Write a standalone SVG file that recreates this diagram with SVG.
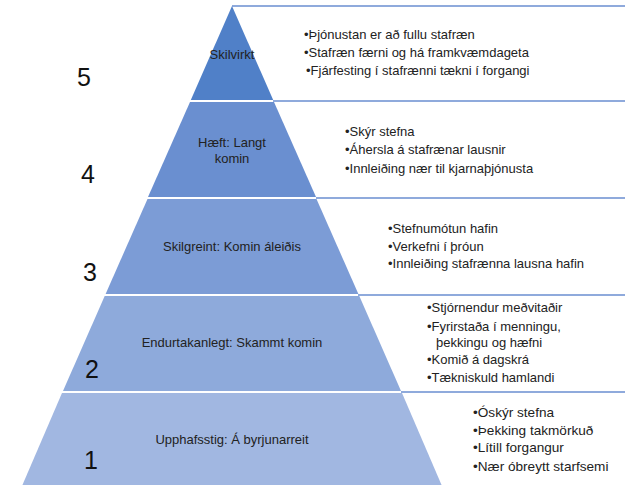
<svg xmlns="http://www.w3.org/2000/svg" width="625" height="485" viewBox="0 0 625 485">
<style>
.lbl{font-family:"Liberation Sans",Arial,sans-serif;font-size:13px;fill:#222;text-anchor:middle}
.bul{font-family:"Liberation Sans",Arial,sans-serif;font-size:13px;fill:#222}
.big{font-size:13.6px}
.num{font-family:"Liberation Sans",Arial,sans-serif;font-size:25px;fill:#111;text-anchor:middle}
.sep{stroke:#8FAADC;stroke-width:2;fill:none}
</style>
<rect width="625" height="485" fill="#fff"/>
<g id="connectors">
<line class="sep" x1="232" y1="6" x2="625" y2="6"/>
<line class="sep" x1="273" y1="101" x2="625" y2="101"/>
<line class="sep" x1="316" y1="198" x2="625" y2="198"/>
<line class="sep" x1="358" y1="295" x2="625" y2="295"/>
<line class="sep" x1="401" y1="392" x2="625" y2="392"/>
</g>
<g id="tier5">
<polygon points="232,6 273.2,100 190.8,100" fill="#5080C8"/>
<text class="lbl" x="232" y="59">Skilvirkt</text>
<text class="bul" x="304" y="39">•Þjónustan er að fullu stafræn</text>
<text class="bul" x="304" y="57">•Stafræn færni og há framkvæmdageta</text>
<text class="bul" x="306" y="75">•Fjárfesting í stafrænni tækni í forgangi</text>
<text class="num" x="84" y="86">5</text>
</g>
<g id="tier4">
<polygon points="190,102 274,102 316,197 148,197" fill="#6A8FD0"/>
<text class="lbl" x="232" y="147">Hæft: Langt</text>
<text class="lbl" x="232" y="163">komin</text>
<text class="bul" x="345" y="136">•Skýr stefna</text>
<text class="bul" x="345" y="154">•Áhersla á stafrænar lausnir</text>
<text class="bul" x="345" y="173">•Innleiðing nær til kjarnaþjónusta</text>
<text class="num" x="88" y="183">4</text>
</g>
<g id="tier3">
<polygon points="147.5,199 316.5,199 358.4,294 105.6,294" fill="#7C9CD6"/>
<text class="lbl" x="232" y="251">Skilgreint: Komin áleiðis</text>
<text class="bul" x="388" y="233">•Stefnumótun hafin</text>
<text class="bul" x="388" y="251">•Verkefni í þróun</text>
<text class="bul" x="388" y="268">•Innleiðing stafrænna lausna hafin</text>
<text class="num" x="90" y="281">3</text>
</g>
<g id="tier2">
<polygon points="104.7,296 359.3,296 401,391 63,391" fill="#8EAADB"/>
<text class="lbl" x="232" y="347">Endurtakanlegt: Skammt komin</text>
<text class="bul" x="427" y="312">•Stjórnendur meðvitaðir</text>
<text class="bul" x="427" y="331">•Fyrirstaða í menningu,</text>
<text class="bul" x="436" y="347">þekkingu og hæfni</text>
<text class="bul" x="427" y="364">•Komið á dagskrá</text>
<text class="bul" x="427" y="382">•Tækniskuld hamlandi</text>
<text class="num" x="92" y="378">2</text>
</g>
<g id="tier1">
<polygon points="62,393 402,393 442,486 22,486" fill="#A1B7E1"/>
<text class="lbl" x="232" y="444">Upphafsstig: Á byrjunarreit</text>
<text class="bul big" x="473" y="417">•Óskýr stefna</text>
<text class="bul big" x="473" y="435">•Þekking takmörkuð</text>
<text class="bul big" x="473" y="452">•Lítill forgangur</text>
<text class="bul big" x="473" y="471">•Nær óbreytt starfsemi</text>
<text class="num" x="91" y="469">1</text>
</g>
</svg>
